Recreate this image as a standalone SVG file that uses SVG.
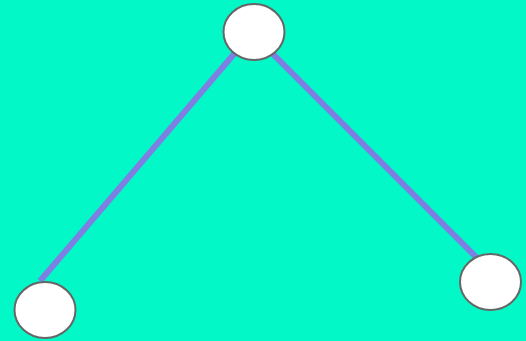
<svg xmlns="http://www.w3.org/2000/svg" width="526" height="341" viewBox="0 0 526 341">
<style>
.edge{stroke:#7d7fe3;stroke-width:6;fill:none}
.node{fill:#ffffff;stroke:#666666;stroke-width:2}
</style>
<rect x="0" y="0" width="526" height="341" fill="#02f9c7"/>
<g id="edges">
<line class="edge" x1="252" y1="33" x2="40" y2="281"/>
<line class="edge" x1="252" y1="33" x2="481" y2="262"/>
</g>
<g id="node-top"><ellipse class="node" cx="254" cy="32" rx="30.5" ry="28"/></g>
<g id="node-left"><ellipse class="node" cx="45" cy="310" rx="30.5" ry="28"/></g>
<g id="node-right"><ellipse class="node" cx="490.5" cy="282" rx="30.5" ry="28"/></g>
</svg>
